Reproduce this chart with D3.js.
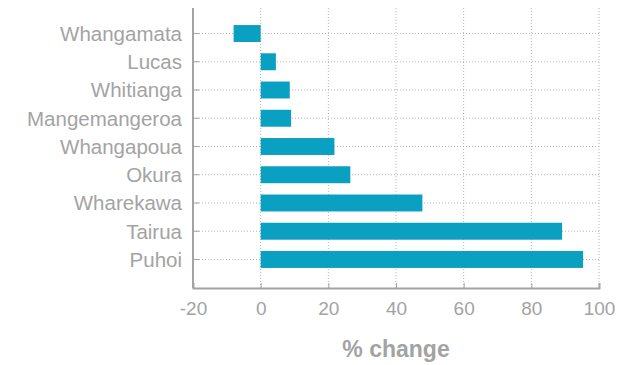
<!DOCTYPE html>
<html>
<head>
<meta charset="utf-8">
<script src="https://cdn.jsdelivr.net/npm/d3@7"></script>
<style>
  body { margin: 0; background: #fff; }
  #chart { width: 620px; height: 365px; }
</style>
</head>
<body>
<div id="chart"></div>
<script>
// data
var places = ["Whangamata", "Lucas", "Whitianga", "Mangemangeroa", "Whangapoua", "Okura", "Wharekawa", "Tairua", "Puhoi"];
var pctChange = [-8, 4.5, 8.6, 9.0, 21.8, 26.5, 47.8, 89.1, 95.3];
var xTicks = [-20, 0, 20, 40, 60, 80, 100];

var margin = {top: 5, right: 21, bottom: 77, left: 193};
var width = 620 - margin.left - margin.right;
var height = 365 - margin.top - margin.bottom;

var grey = "#a3a3a3";
var barColor = "#0aa0c2";

var svg = d3.select("#chart")
  .append("svg")
    .attr("width", 620)
    .attr("height", 365)
  .append("g")
    .attr("transform", "translate(" + margin.left + "," + margin.top + ")");

var data = places.map(function(p, i) { return {name: p, value: pctChange[i]}; });

var x = d3.scaleLinear()
  .domain([-20, 100])
  .range([0, width]);

var y = d3.scaleBand()
  .domain(places)
  .range([0, height])
  .paddingInner(0.4)
  .paddingOuter(0.71);

// vertical dotted grid
svg.append("g")
  .selectAll("line")
  .data(xTicks.filter(function(d) { return d > -20; }))
  .enter().append("line")
    .attr("x1", function(d) { return x(d); })
    .attr("x2", function(d) { return x(d); })
    .attr("y1", 3)
    .attr("y2", height)
    .attr("stroke", "#b5b5b5")
    .attr("stroke-width", 1)
    .attr("stroke-dasharray", "1,2");

// horizontal dotted grid
svg.append("g")
  .selectAll("line")
  .data(places)
  .enter().append("line")
    .attr("x1", 0)
    .attr("x2", x(100))
    .attr("y1", function(d) { return y(d) + y.bandwidth() / 2; })
    .attr("y2", function(d) { return y(d) + y.bandwidth() / 2; })
    .attr("stroke", "#b5b5b5")
    .attr("stroke-width", 1)
    .attr("stroke-dasharray", "1,2");

// bars
svg.append("g")
  .selectAll("rect")
  .data(data)
  .enter().append("rect")
    .attr("x", function(d) { return x(Math.min(0, d.value)); })
    .attr("y", function(d) { return y(d.name); })
    .attr("width", function(d) { return Math.abs(x(d.value) - x(0)); })
    .attr("height", y.bandwidth())
    .attr("fill", barColor);

// x axis
var xAx = svg.append("g")
  .attr("transform", "translate(0," + height + ")")
  .call(d3.axisBottom(x).tickValues(xTicks).tickSize(-5).tickPadding(14)
    .tickFormat(function(d) { return String(d); }));

xAx.select(".domain").attr("stroke", grey).attr("stroke-width", 2);
xAx.selectAll(".tick line").attr("stroke", grey);
xAx.selectAll("text")
  .attr("fill", grey)
  .style("font-family", "Liberation Sans, Arial, sans-serif")
  .style("font-size", "19px");

// y axis
var yAx = svg.append("g")
  .call(d3.axisLeft(y).tickSize(-6).tickPadding(11));

yAx.select(".domain").attr("d", "M0,3V" + height).attr("stroke", grey).attr("stroke-width", 2);
yAx.selectAll(".tick line").attr("stroke", grey);
yAx.selectAll("text")
  .attr("fill", grey)
  .attr("dy", "0.36em")
  .style("font-family", "Liberation Sans, Arial, sans-serif")
  .style("font-size", "20.5px");

// axis title
svg.append("text")
  .attr("x", width / 2)
  .attr("y", height + 69)
  .attr("text-anchor", "middle")
  .attr("fill", grey)
  .style("font-family", "Liberation Sans, Arial, sans-serif")
  .style("font-weight", "bold")
  .style("font-size", "23px")
  .text("% change");
</script>
</body>
</html>
